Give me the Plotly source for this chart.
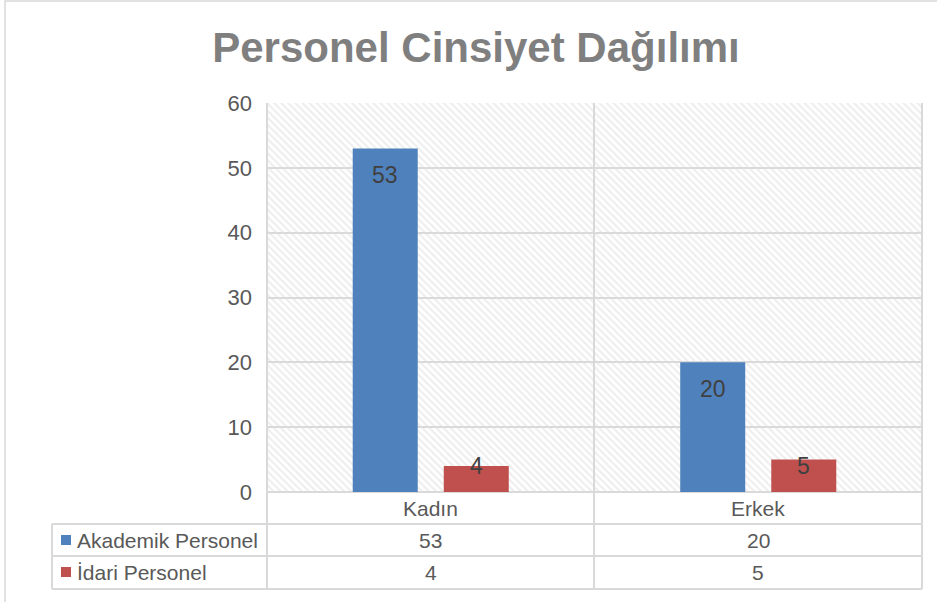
import plotly.graph_objects as go

# ---- data ----
categories = ["Kadın", "Erkek"]
series_names = ["Akademik Personel", "İdari Personel"]
akademik = [53, 20]
idari = [4, 5]
y_ticks = [0, 10, 20, 30, 40, 50, 60]
title_text = "Personel Cinsiyet Dağılımı"

colors = ["#4f81bd", "#c0504d"]
series_values = [akademik, idari]

W, H = 937, 602
L, R, T, B = 267, 15, 103, 110
plot_w = W - L - R
plot_h = H - T - B
ymax = y_ticks[-1]
ppu = plot_h / ymax
FONT = "Liberation Sans, Arial, sans-serif"
TXT = "#595959"
GRID = "#d9d9d9"


def px_x(p):
    return (p - L) / plot_w


def px_y(p):
    return (H - B - p) / plot_h


fig = go.Figure()

# background hatch (decorative) on base axes
fig.add_trace(go.Bar(
    x=[0.5], y=[1], width=[1], xaxis="x", yaxis="y",
    marker=dict(color="rgba(0,0,0,0)", line=dict(width=0),
                pattern=dict(shape="\\", fgcolor="#dedede", bgcolor="rgba(0,0,0,0)",
                             size=5, solidity=0.45)),
    hoverinfo="skip", showlegend=False,
))

for name, vals, c in zip(series_names, series_values, colors):
    fig.add_trace(go.Bar(
        name=name, x=categories, y=vals, xaxis="x2", yaxis="y2",
        marker=dict(color=c, line=dict(width=0)), showlegend=False,
    ))

annotations = []
shapes = []

# data labels
n = len(series_names)
slot_px = (plot_w / len(categories)) * (1 - 0.444) / n
for si, vals in enumerate(series_values):
    off = (si - (n - 1) / 2) * slot_px
    for cat, v in zip(categories, vals):
        annotations.append(dict(
            x=cat, y=0, xref="x2", yref="y2", text=str(v), showarrow=False,
            xshift=off, yshift=max(v * ppu - 27, 26), yanchor="middle",
            font=dict(family=FONT, size=23, color="#404040"),
        ))

# data table
line = dict(color=GRID, width=2)
row_tops = [492, 524, 556, 589]
for yy in row_tops[1:]:
    shapes.append(dict(type="line", xref="paper", yref="paper",
                       x0=px_x(52), x1=px_x(922), y0=px_y(yy), y1=px_y(yy), line=line))
shapes.append(dict(type="line", xref="paper", yref="paper",
                   x0=px_x(52), x1=px_x(52), y0=px_y(524), y1=px_y(589), line=line))
for xx in [267, 594, 922]:
    shapes.append(dict(type="line", xref="paper", yref="paper",
                       x0=px_x(xx), x1=px_x(xx), y0=px_y(103), y1=px_y(589), line=line))
# outer chart border
shapes.append(dict(type="rect", xref="paper", yref="paper",
                   x0=px_x(5), x1=px_x(960), y0=px_y(1), y1=px_y(640),
                   line=dict(color=GRID, width=1.5), layer="below"))

# category row
for cat in categories:
    annotations.append(dict(x=cat, y=px_y(508), xref="x2", yref="paper", text=cat,
                            showarrow=False, yanchor="middle",
                            font=dict(family=FONT, size=21, color=TXT)))
row_centers = [540, 572]
for name, vals, c, yc in zip(series_names, series_values, colors, row_centers):
    shapes.append(dict(type="rect", xref="paper", yref="paper",
                       x0=px_x(61), x1=px_x(71), y0=px_y(yc - 5), y1=px_y(yc + 5),
                       fillcolor=c, line=dict(width=0)))
    annotations.append(dict(x=px_x(75), y=px_y(yc), xref="paper", yref="paper",
                            text=name, showarrow=False, xanchor="left", yanchor="middle",
                            font=dict(family=FONT, size=21, color=TXT)))
    for cat, v in zip(categories, vals):
        annotations.append(dict(x=cat, y=px_y(yc), xref="x2", yref="paper",
                                text=str(v), showarrow=False, yanchor="middle",
                                font=dict(family=FONT, size=21, color=TXT)))

fig.update_layout(
    width=W, height=H,
    margin=dict(l=L, r=R, t=T, b=B),
    paper_bgcolor="white", plot_bgcolor="white",
    barmode="group", bargap=0.444, bargroupgap=0.286,
    title=dict(text=title_text, x=476 / W, y=1 - 47 / H, xref="container", yref="container",
               xanchor="center", yanchor="middle",
               font=dict(family=FONT, size=42, color="#7f7f7f", weight="bold")),
    xaxis=dict(range=[0, 1], visible=False, fixedrange=True),
    yaxis=dict(range=[0, 1], visible=False, fixedrange=True),
    xaxis2=dict(overlaying="x", anchor="y2", type="category", showticklabels=False,
                showgrid=False, zeroline=False, showline=False, ticks=""),
    yaxis2=dict(overlaying="y", anchor="x2", side="left", range=[0, ymax],
                tickvals=y_ticks, showgrid=True, gridcolor=GRID, gridwidth=2,
                zeroline=True, zerolinecolor=GRID, zerolinewidth=2, showline=False,
                ticks="", ticklabelstandoff=14,
                tickfont=dict(family=FONT, size=22, color=TXT)),
    annotations=annotations, shapes=shapes,
    hovermode=False,
)

fig.write_html("out.html", config={"displayModeBar": False},
               post_script="document.body.style.margin='0';")
